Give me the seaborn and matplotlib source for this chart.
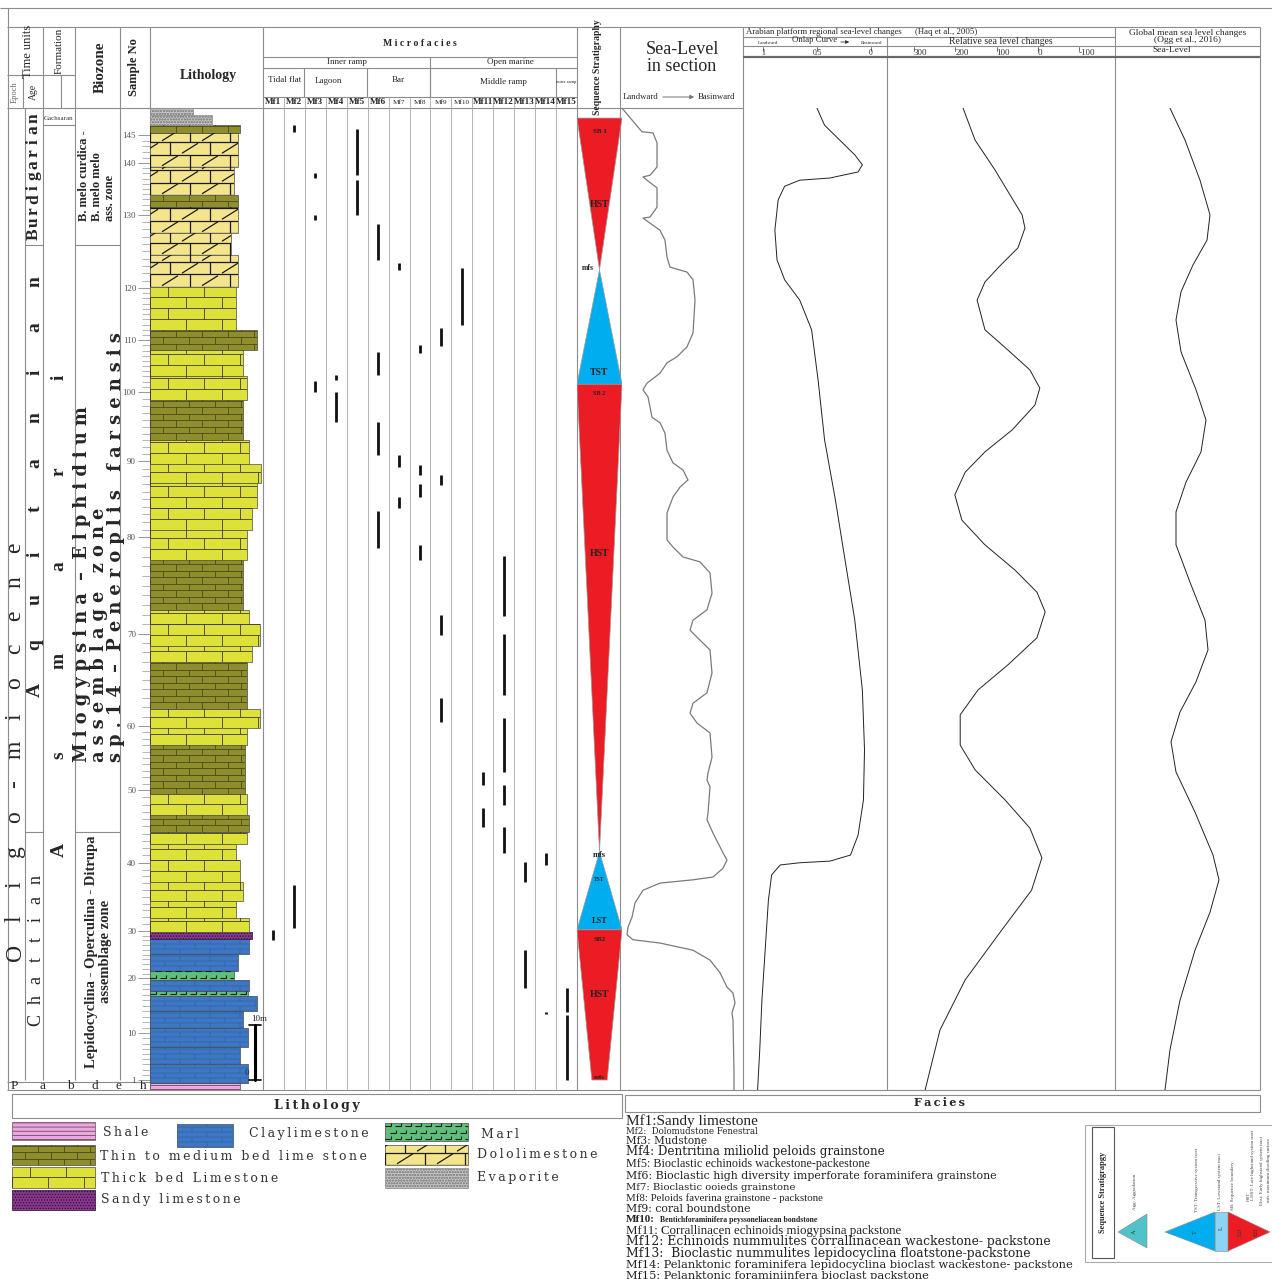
import numpy as np
import matplotlib
matplotlib.use("Agg")
import matplotlib.pyplot as plt
import matplotlib.transforms as mtrans
from matplotlib.patches import Rectangle, Polygon
from matplotlib.collections import LineCollection
import seaborn as sns

# ---------------- data (heights in metres above base of section) ----------------
sample_ticks = [1, 10, 20, 30, 40, 50, 60, 70, 80, 90, 100, 110, 120, 130, 140, 145]
sample_heights = [0.0, 8.5, 18.5, 27.1, 39.5, 52.7, 64.4, 81.1, 98.7, 112.5,
                  125.1, 134.5, 144.0, 157.3, 166.7, 171.8]

bed_base = [-1.8, -0.5, 3.0, 6.0, 9.5, 12.5, 15.3, 16.2, 18.2, 19.8, 23.0, 25.6,
            26.9, 29.5, 32.5, 36.0, 40.0, 43.0, 45.1, 48.2, 52.0, 61.0, 64.0, 67.5,
            76.0, 79.0, 83.0, 85.5, 94.5, 100.0, 104.0, 108.5, 112.0, 116.4, 123.6,
            128.0, 132.7, 136.4, 144.2, 150.0, 154.0, 158.7, 160.9, 166.0, 172.2,
            173.6, 175.5]
bed_top = bed_base[1:] + [176.7]
bed_lith = ['shale', 'clay', 'clay', 'clay', 'clay', 'clay', 'marl', 'clay', 'marl',
            'clay', 'clay', 'sandy', 'thick', 'thick', 'thick', 'thick', 'thick',
            'thick', 'thin', 'thick', 'thin', 'thick', 'thick', 'thin', 'thick',
            'thick', 'thick', 'thin', 'thick', 'thick', 'thick', 'thick', 'thick',
            'thin', 'thick', 'thick', 'thin', 'thick', 'dolo', 'dolo', 'dolo', 'thin',
            'dolo', 'dolo', 'thin', 'evap', 'evap']
bed_width = [0.80, 0.87, 0.80, 0.87, 0.82, 0.95, 0.87, 0.88, 0.74, 0.78, 0.88, 0.90,
             0.88, 0.76, 0.82, 0.80, 0.76, 0.86, 0.88, 0.86, 0.84, 0.86, 0.97, 0.86,
             0.90, 0.97, 0.88, 0.82, 0.86, 0.90, 0.95, 0.98, 0.88, 0.82, 0.86, 0.82,
             0.95, 0.76, 0.78, 0.72, 0.78, 0.78, 0.74, 0.78, 0.80, 0.55, 0.38]

mf_names = ['Mf%d' % i for i in range(1, 16)]
mf_col = [1, 2, 2, 3, 3, 3, 4, 4, 5, 5, 6, 6, 6, 6, 7, 7, 7, 8, 8, 8, 8,
          9, 9, 9, 9, 10, 11, 11, 12, 12, 12, 12, 12, 13, 13, 14, 14, 15, 15]
mf_base = [25.5, 172.4, 27.6, 164.0, 156.4, 125.1, 127.3, 119.6, 164.5, 157.3,
           149.1, 128.2, 113.6, 96.7, 147.3, 111.5, 104.0, 132.2, 110.0, 106.0, 94.5,
           133.5, 108.2, 80.9, 65.1, 137.3, 53.6, 46.0, 84.4, 70.0, 56.0, 50.0, 41.3,
           36.0, 16.7, 39.1, 12.0, 12.4, 0.0]
mf_top = [27.3, 173.6, 35.5, 164.9, 157.3, 127.1, 128.2, 125.1, 172.9, 163.6,
          155.6, 132.4, 119.6, 103.5, 148.5, 113.6, 106.0, 133.6, 111.8, 108.4, 97.3,
          136.7, 110.0, 84.5, 69.5, 147.6, 56.0, 49.5, 95.3, 81.1, 65.8, 53.6, 46.0,
          39.6, 23.6, 41.3, 12.4, 16.7, 11.8]

tract_kind = ['HST', 'TST', 'HST', 'TST', 'HST']
tract_base = [147.3, 126.5, 41.5, 27.3, 0.0]
tract_top = [174.9, 147.3, 126.5, 41.5, 27.3]
tract_tip = [0.0, 0.0, 0.0, 0.0, 0.34]

seq_text = ['SB 1', 'HST', 'mfs', 'TST', 'SB 2', 'HST', 'mfs', 'TST', 'LST', 'SB2', 'HST', 'mfs']
seq_text_h = [172.5, 159.1, 147.6, 128.7, 124.9, 95.8, 40.9, 36.4, 28.9, 25.5, 15.5, 0.4]
seq_text_x = [0.5, 0.5, 0.24, 0.5, 0.5, 0.5, 0.5, 0.5, 0.5, 0.5, 0.5, 0.5]
seq_text_size = [5, 7, 5.5, 7, 4.5, 7, 6, 4, 6, 5, 7, 5]

sls_x = [2, 22, 33, 37, 37, 30, 23, 27, 37, 37, 30, 23, 30, 40, 45, 47, 50, 67, 73, 75,
         73, 67, 57, 47, 40, 27, 23, 28, 32, 40, 45, 47, 53, 63, 68, 60, 53, 47, 47,
         53, 63, 80, 90, 92, 87, 73, 70, 77, 90, 92, 87, 73, 70, 77, 90, 92, 88, 87,
         90, 88, 87, 93, 103, 107, 103, 93, 73, 40, 23, 15, 12, 8, 7, 13, 40, 73, 90,
         100, 107, 113, 115, 112, 113, 114, 114]
sls_h = [176.7, 172.4, 172.2, 170.4, 166.0, 164.5, 164.2, 163.6, 162.2, 158.7, 156.9,
         156.7, 155.8, 154.5, 152.7, 149.6, 147.8, 146.9, 145.5, 141.8, 135.8, 133.3,
         131.5, 130.4, 128.5, 126.7, 125.5, 124.2, 120.5, 119.5, 117.6, 114.5, 112.2,
         110.9, 109.1, 107.8, 106.0, 103.1, 98.2, 96.9, 95.1, 94.2, 92.2, 88.5, 85.5,
         83.6, 81.8, 80.5, 78.2, 74.0, 70.4, 68.5, 66.7, 64.9, 63.1, 58.7, 55.8, 54.5,
         53.3, 48.5, 47.3, 44.9, 41.3, 40.0, 38.5, 36.9, 36.4, 35.8, 34.5, 32.2, 29.6,
         27.8, 26.4, 25.5, 24.9, 23.6, 21.8, 19.5, 16.9, 15.8, 14.0, 12.2, 10.9, 1.3, -1.8]

onlap_x = [0.50, 0.43, 0.29, 0.15, 0.08, 0.12, 0.38, 0.66, 0.80, 0.86, 0.89, 0.87, 0.80,
           0.66, 0.55, 0.49, 0.43, 0.33, 0.24, 0.15, 0.08, 0.06, 0.07, 0.12, 0.19, 0.38,
           0.66, 0.84, 0.92, 0.95, 0.98, 1.01, 1.03, 1.05]
onlap_h = [176.7, 173.6, 170.9, 168.2, 166.4, 165.1, 164.0, 163.6, 162.5, 160.0, 154.5,
           149.1, 145.5, 141.8, 136.4, 127.3, 116.4, 105.5, 94.5, 83.6, 70.9, 60.0, 50.9,
           44.5, 40.9, 39.8, 39.5, 39.1, 37.3, 32.7, 23.6, 14.5, 5.5, -1.8]

rel_x = [181, 152, 104, 67, 38, 31, 48, 92, 128, 147, 128, 72, 19, -5, 7, 62, 128, 176,
         201, 184, 128, 55, 2, -18, 2, 72, 145, 188, 188, 152, 79, 19, -10, 15, 87, 176,
         237, 273]
rel_h = [176.7, 170.9, 165.5, 160.9, 157.3, 154.9, 151.3, 148.0, 145.1, 141.8, 136.4,
         132.7, 129.1, 125.8, 122.7, 118.2, 114.2, 110.5, 106.4, 101.8, 97.3, 92.7, 88.7,
         85.1, 80.4, 75.5, 70.9, 66.4, 60.9, 56.4, 50.9, 45.8, 40.4, 34.5, 27.3, 18.2,
         9.1, -1.8]

glob_x = [55, 70, 85, 95, 92, 78, 66, 61, 66, 81, 91, 86, 71, 61, 61, 75, 90, 93, 81, 65,
          56, 61, 80, 98, 104, 95, 80, 65, 55, 50]
glob_h = [176.7, 170.9, 163.6, 157.3, 152.7, 148.2, 143.3, 138.2, 132.4, 125.5, 120.0,
          114.2, 108.7, 103.3, 97.3, 90.5, 83.6, 78.2, 72.4, 66.9, 61.5, 56.0, 48.7, 40.9,
          36.4, 30.5, 23.6, 14.5, 5.5, -1.8]

onlap_ticks = [1, 0.5, 0]
rel_ticks = [300, 200, 100, 0, -100]

facies_text = [
    'Mf1:Sandy limestone',
    'Mf2:  Dolomudstone Fenestral',
    'Mf3: Mudstone',
    'Mf4: Dentritina miliolid peloids grainstone',
    'Mf5: Bioclastic echinoids wackestone-packestone',
    'Mf6: Bioclastic high diversity imperforate foraminifera grainstone',
    'Mf7: Bioclastic ooieds grainstone',
    'Mf8: Peloids faverina grainstone - packstone',
    'Mf9: coral boundstone',
    'Mf10:',
    'Mf11: Corrallinacen echinoids miogypsina packstone',
    'Mf12: Echinoids nummulites corrallinacean wackestone- packstone',
    'Mf13:  Bioclastic nummulites lepidocyclina floatstone-packstone',
    'Mf14: Pelanktonic foraminifera lepidocyclina bioclast wackestone- packstone',
    'Mf15: Pelanktonic foraminiinfera bioclast packstone',
]
facies_font = ['Liberation Serif', 'DejaVu Serif', 'DejaVu Serif', 'DejaVu Serif',
               'Liberation Serif', 'DejaVu Serif', 'DejaVu Serif', 'Liberation Serif',
               'DejaVu Serif', 'Liberation Serif', 'Liberation Serif', 'DejaVu Serif',
               'DejaVu Serif', 'DejaVu Serif', 'DejaVu Serif']
facies_size = [11, 6.2, 7.6, 8.6, 8.7, 7.9, 7.2, 7.8, 7.8, 8.0, 9.3, 8.9, 8.9, 8.2, 8.2]
facies_y = [1121, 1132, 1141, 1152, 1164, 1176, 1187, 1198, 1209, 1220, 1231, 1242,
            1254, 1265, 1276]

legend_items = [('shale', 'Shale'), ('clay', 'Claylimestone'), ('marl', 'Marl'),
                ('thin', 'Thin to medium bed lime stone'), ('dolo', 'Dololimestone'),
                ('thick', 'Thick bed Limestone'), ('evap', 'Evaporite'),
                ('sandy', 'Sandy limestone')]

# ---------------- style ----------------
sns.set_style("white")
plt.rcParams['font.family'] = ['Liberation Serif', 'DejaVu Serif']
plt.rcParams['hatch.linewidth'] = 0.6

PAT = {
    'thick': dict(fc='#dde13a', rh=11, bw=36, lc='#3c3c20', lw=0.6, diag=False),
    'thin': dict(fc='#8e8e2e', rh=6.5, bw=26, lc='#3d3d12', lw=0.5, diag=False),
    'dolo': dict(fc='#f4e48c', rh=12.5, bw=40, lc='#1a1a1a', lw=0.9, diag=True),
    'clay': dict(fc='#3e77c3', rh=5, bw=30, lc='#2b5a95', lw=0.35, diag=False),
}
FILL = {'marl': '#5dbf7a', 'evap': '#c4c4c4', 'shale': '#eaa8dd', 'sandy': '#8a3990'}
HATCH = {'evap': 'oooooo', 'shale': '----', 'sandy': '......'}
HATCH_EC = {'evap': '#8e8e8e', 'shale': '#6c4a66', 'sandy': '#2a0c2c'}
RED, BLUE = '#ec1c24', '#00aeef'
GRID = '#8c8c8c'

W, H = 1272, 1279
fig = plt.figure(figsize=(W / 100, H / 100), dpi=100)
frame = fig.add_axes([0, 0, 1, 1])
frame.set_xlim(0, W)
frame.set_ylim(H, 0)
frame.axis('off')

TOP_PX, BOT_PX, BASE_PX, PX_PER_M = 108, 1090, 1080, 5.5
Y_TOP = (BASE_PX - TOP_PX) / PX_PER_M
Y_BOT = (BASE_PX - BOT_PX) / PX_PER_M


def col_axes(x0, x1, xlim):
    ax = fig.add_axes([x0 / W, 1 - BOT_PX / H, (x1 - x0) / W, (BOT_PX - TOP_PX) / H])
    ax.set_xlim(*xlim)
    ax.set_ylim(Y_BOT, Y_TOP)
    ax.patch.set_alpha(0)
    for s in ax.spines.values():
        s.set_visible(False)
    ax.set_xticks([])
    ax.set_yticks([])
    return ax


def draw_lith(ax, x0, x1, y0, y1, lith, sx, sy, up):
    lo, hi = min(y0, y1), max(y0, y1)
    spec = PAT.get(lith)
    fc = spec['fc'] if spec else FILL[lith]
    rect = Rectangle((x0, lo), x1 - x0, hi - lo, facecolor=fc,
                     edgecolor=HATCH_EC.get(lith, '#4a4a4a'), linewidth=0.5,
                     hatch=HATCH.get(lith), zorder=2)
    ax.add_patch(rect)
    segs = []
    start = lo if up > 0 else hi
    if spec:
        rh, bw = spec['rh'] / sy, spec['bw'] / sx
        n = int(np.ceil((hi - lo) / rh))
        for k in range(n + 1):
            ya = start + up * k * rh
            yb = ya + up * rh
            segs.append([(x0, ya), (x1, ya)])
            off = (bw / 2) * (k % 2)
            for xj in np.arange(x0 + off - bw, x1 + bw, bw):
                segs.append([(xj, ya), (xj, yb)])
                if spec['diag']:
                    xm = xj + bw / 2
                    segs.append([(xm - 0.2 * bw, ya + up * 0.1 * rh),
                                 (xm + 0.2 * bw, yb - up * 0.1 * rh)])
        color, lw = spec['lc'], spec['lw']
    elif lith == 'marl':
        rh, bw = 6.5 / sy, 10 / sx
        n = int(np.ceil((hi - lo) / rh))
        for k in range(n + 1):
            ya = start + up * (k + 0.3) * rh
            off = (bw / 2) * (k % 2)
            for xj in np.arange(x0 + off, x1, bw):
                segs.append([(xj, ya), (xj + 0.55 * bw, ya)])
                segs.append([(xj + 0.55 * bw, ya), (xj + 0.55 * bw, ya + up * 0.45 * rh)])
        color, lw = '#1b1b1b', 0.8
    if segs:
        lc = LineCollection(segs, colors=color, linewidths=lw, zorder=3)
        ax.add_collection(lc)
        lc.set_clip_path(rect)


def fline(xs, ys, lw=0.8, color=GRID):
    frame.plot(xs, ys, color=color, lw=lw, solid_capstyle='butt')


def spaced(x, ya, yb, s, size, **kw):
    n = len(s)
    for i, ch in enumerate(s):
        frame.text(x, ya + (yb - ya) * i / (n - 1), ch, rotation=90, ha='center',
                   va='center', fontsize=size, **kw)


def tracked(s):
    # loose letter spacing, as in the legend labels of the figure
    return '\u2009'.join(s)


# ---------------- table frame ----------------
X_MF0, X_MF1 = 263, 577
mf_w = (X_MF1 - X_MF0) / 15
fline([0, W], [8, 8])
fline([8, 8], [8, BOT_PX])
fline([7, 1260], [27, 27])
fline([7, 743], [TOP_PX, TOP_PX])
fline([7, 75], [75, 75])
fline([23, 23], [75, TOP_PX])
fline([25, 25], [TOP_PX, BASE_PX])
fline([61, 61], [75, TOP_PX])
for xv in [43, 75, 120]:
    fline([xv, xv], [27, BASE_PX])
for xv in [150, 263, 577, 620, 743, 1115, 1260]:
    fline([xv, xv], [27, BOT_PX])
fline([887, 887], [37, BOT_PX])
fline([7, 150], [BASE_PX + 2, BASE_PX + 2])
fline([43, 75], [125, 125])
for yv in [245, 832]:
    fline([25, 43], [yv, yv])
    fline([75, 120], [yv, yv])
fline([7, 1260], [BOT_PX, BOT_PX])
for yv in [57, 68, 97]:
    fline([X_MF0, X_MF1], [yv, yv])
fline([430, 430], [57, 97])
for xv in [304, 367, 430, 556]:
    fline([xv, xv], [68, 97])
for k in range(1, 15):
    xv = X_MF0 + k * mf_w
    fline([xv, xv], [97, BOT_PX], lw=0.6, color='#a8a8a8')
fline([743, 1115], [37, 37])
fline([743, 1260], [46, 46])
fline([743, 1260], [56.5, 56.5], lw=1.6, color='#6a6a6a')

# ---------------- header texts ----------------
frame.text(28, 51, 'Time units', rotation=90, ha='center', va='center', fontsize=9)
frame.text(15, 92, 'Epoch', rotation=90, ha='center', va='center', fontsize=6, color='#666')
frame.text(33, 92, 'Age', rotation=90, ha='center', va='center', fontsize=7)
frame.text(59, 51, 'Formation', rotation=90, ha='center', va='center', fontsize=8)
frame.text(100, 67, 'Biozone', rotation=90, ha='center', va='center', fontsize=11, weight='bold')
frame.text(134, 67, 'Sample No', rotation=90, ha='center', va='center', fontsize=9, weight='bold')
frame.text(208, 75, 'Lithology', ha='center', va='center', fontsize=10, weight='bold')
frame.text(59, 119, 'Gachsaran', ha='center', va='center', fontsize=5, color='#333')

frame.text(420, 44, 'M i c r o f a c i e s', ha='center', va='center', fontsize=7, weight='bold')
frame.text(347, 62, 'Inner ramp', ha='center', va='center', fontsize=6.5)
frame.text(510, 62, 'Open marine', ha='center', va='center', fontsize=6.5)
frame.text(285, 80, 'Tidal flat', ha='center', va='center', fontsize=6.5)
frame.text(328, 81, 'Lagoon', ha='center', va='center', fontsize=6.5)
frame.text(398, 80, 'Bar', ha='center', va='center', fontsize=6.5)
frame.text(503, 82, 'Middle ramp', ha='center', va='center', fontsize=6.5)
frame.text(566, 82, 'outer ramp', ha='center', va='center', fontsize=3.3)
for k, name in enumerate(mf_names):
    small = name in ('Mf7', 'Mf8', 'Mf9', 'Mf10')
    frame.text(X_MF0 + (k + 0.5) * mf_w, 102, name, ha='center', va='center',
               fontsize=5.2 if small else 6.6, weight='normal' if small else 'bold')

frame.text(598, 67, 'Sequence Stratigraphy', rotation=90, ha='center', va='center',
           fontsize=7, weight='bold')
frame.text(682, 58, 'Sea-Level\nin section', ha='center', va='center', fontsize=13,
           linespacing=1.05)
frame.text(623, 97, 'Landward', ha='left', va='center', fontsize=6.3)
frame.annotate('', xy=(697, 97), xytext=(660, 97),
               arrowprops=dict(arrowstyle='-|>', color='#777', lw=0.7, mutation_scale=6))
frame.text(698, 97, 'Basinward', ha='left', va='center', fontsize=6.3)

frame.text(746, 32, 'Arabian platform regional sea-level changes', ha='left', va='center', fontsize=6.3)
frame.text(946, 32, '(Haq et al., 2005)', ha='center', va='center', fontsize=6.3)
frame.text(768, 43, 'Landward', ha='center', va='center', fontsize=3.6)
frame.text(815, 40.5, 'Onlap Curve', ha='center', va='center', fontsize=6.3)
frame.annotate('', xy=(852, 42), xytext=(838, 42),
               arrowprops=dict(arrowstyle='-|>', color='#333', lw=0.6, mutation_scale=5))
frame.text(872, 43, 'Basinward', ha='center', va='center', fontsize=3.6)
frame.text(1001, 42, 'Relative sea level changes', ha='center', va='center', fontsize=7)
frame.text(1188, 33, 'Global mean sea level changes', ha='center', va='center', fontsize=6.8)
frame.text(1188, 40, '(Ogg et al., 2016)', ha='center', va='center', fontsize=6.8)
frame.text(1172, 50.5, 'Sea-Level', ha='center', va='center', fontsize=6.8)

# ---------------- body labels ----------------
spaced(15, 952, 548, 'Oligo-miocene', 17)
spaced(34, 234, 118, 'Burdigarian', 12.5, weight='bold')
spaced(35, 690, 282, 'Aquitanian', 14, weight='bold')
spaced(36, 1020, 880, 'Chattian', 13)
spaced(59, 850, 377, 'Asmari', 14, weight='bold')
frame.text(97, 176, 'B. melo curdica -\nB. melo melo\nass. zone', rotation=90, ha='center',
           va='center', fontsize=9, weight='bold', multialignment='left', linespacing=1.15)
frame.text(99, 762, 'M i o g y p s i n a  –  E l p h i d i u m\n'
                    'a s s e m b l a g e   z o n e\n'
                    's p . 1 4  –  P e n e r o p l i s   f a r s e n s i s',
           rotation=90, ha='center', va='bottom', fontsize=12.8, weight='bold',
           family='DejaVu Serif', multialignment='left', linespacing=0.92)
frame.text(99, 1068, 'Lepidocyclina - Operculina - Ditrupa\nassemblage zone', rotation=90,
           ha='center', va='bottom', fontsize=10.5, weight='bold', multialignment='center',
           linespacing=1.1)
for ch, xv in zip('Pabdeh', [14, 43, 70, 95, 118, 143]):
    frame.text(xv, 1086, ch, ha='center', va='center', fontsize=9.5)

# ---------------- lithology column ----------------
ax_l = col_axes(150, 263, (0, 1))
for b, t, lith, w in zip(bed_base, bed_top, bed_lith, bed_width):
    draw_lith(ax_l, 0, w, b, t, lith, 113, PX_PER_M, 1)
ax_l.plot([0.93, 0.93], [0, 10], color='black', lw=2.2)
ax_l.plot([0.88, 0.98], [10, 10], color='black', lw=1.2)
ax_l.plot([0.88, 0.98], [0, 0], color='black', lw=1.2)
ax_l.text(0.9, 10.4, '10m', fontsize=6.5, ha='left', va='bottom')
ax_l.text(0.88, 0.6, '0', fontsize=6.5, ha='right', va='bottom')
minor_h = np.interp(np.arange(1, 146), sample_ticks, sample_heights)
ax_l.set_yticks(minor_h, minor=True)
ax_l.set_yticks(sample_heights)
ax_l.set_yticklabels([str(s) for s in sample_ticks])
ax_l.tick_params(axis='y', which='major', direction='out', length=9, width=0.6,
                 color='#888', labelsize=6.5, labelcolor='#555', pad=1, left=True)
ax_l.tick_params(axis='y', which='minor', direction='out', length=6, width=0.5,
                 color='#999', left=True)
ax_l.set_ylim(Y_BOT, Y_TOP)

# ---------------- microfacies ----------------
ax_m = col_axes(X_MF0, X_MF1, (0.5, 15.5))
ax_m.vlines(mf_col, mf_base, mf_top, color='#111', lw=2.0)

# ---------------- sequence stratigraphy ----------------
ax_q = col_axes(577, 622, (0, 1))
for kind, b, t, tip in zip(tract_kind, tract_base, tract_top, tract_tip):
    if kind == 'HST':
        pts = [(0, t), (1, t), (0.5 + tip / 2, b), (0.5 - tip / 2, b)]
        col = RED
    else:
        pts = [(0.5, t), (1, b), (0, b)]
        col = BLUE
    ax_q.add_patch(Polygon(pts, closed=True, facecolor=col, edgecolor='#9a9a9a', lw=0.5))
for s, h, xv, fs in zip(seq_text, seq_text_h, seq_text_x, seq_text_size):
    ax_q.text(xv, h, s, ha='center', va='center', fontsize=fs, weight='bold', color='#222')

# ---------------- sea-level curves ----------------
ax_s = col_axes(620, 743, (0, 123))
sns.lineplot(x=sls_x, y=sls_h, sort=False, estimator=None, ax=ax_s, color='#7a7a7a', lw=0.9)

ax_o = col_axes(743, 887, (1 + 20 / 108, -16 / 108))
sns.lineplot(x=onlap_x, y=onlap_h, sort=False, estimator=None, ax=ax_o, color='#222', lw=0.7)

ax_r = col_axes(887, 1115, (300 + 27 / 0.4125, 300 - 201 / 0.4125))
sns.lineplot(x=rel_x, y=rel_h, sort=False, estimator=None, ax=ax_r, color='#222', lw=0.7)

ax_g = col_axes(1115, 1260, (0, 145))
sns.lineplot(x=glob_x, y=glob_h, sort=False, estimator=None, ax=ax_g, color='#222', lw=0.7)

for ax in (ax_s, ax_o, ax_r, ax_g):
    ax.set_xlabel('')
    ax.set_ylabel('')
    ax.set_ylim(Y_BOT, Y_TOP)
    ax.set_xticks([])
    ax.set_yticks([])
    for ln in ax.get_lines():
        ln.set_solid_joinstyle('round')

for ax, ticks, fmt in ((ax_o, onlap_ticks, '{:g}'), (ax_r, rel_ticks, '{:d}')):
    tr = mtrans.blended_transform_factory(ax.transData, frame.transData)
    for v in ticks:
        frame.plot([v, v], [47, 50.5], transform=tr, color='#333', lw=0.5)
        frame.text(v, 53, fmt.format(v), transform=tr, ha='left' if ax is ax_r else 'center',
                   va='center', fontsize=6.5 if ax is ax_r else 5.5, color='#333')

# ---------------- lithology legend ----------------
frame.add_patch(Rectangle((12, 1094), 610, 24, facecolor='white', edgecolor=GRID, lw=0.8))
frame.text(317, 1106, tracked('Lithology'), ha='center', va='center', fontsize=9,
           weight='bold', family='DejaVu Serif')
leg_box = {'shale': (12, 1122, 95, 1140), 'clay': (177, 1124, 233, 1147),
           'marl': (385, 1123, 468, 1141), 'thin': (12, 1145, 95, 1165),
           'dolo': (385, 1145, 468, 1165), 'thick': (12, 1167, 95, 1188),
           'evap': (385, 1168, 468, 1188), 'sandy': (12, 1190, 95, 1210)}
leg_tx = {'shale': (103, 1133), 'clay': (249, 1133), 'marl': (481, 1135),
          'thin': (100, 1156), 'dolo': (477, 1155), 'thick': (101, 1178),
          'evap': (477, 1178), 'sandy': (101, 1199)}
for lith, label in legend_items:
    x0, y0, x1, y1 = leg_box[lith]
    draw_lith(frame, x0, x1, y0, y1, lith, 1, 1, -1)
    tx, ty = leg_tx[lith]
    frame.text(tx, ty, tracked(label), ha='left', va='center', fontsize=9,
               family='DejaVu Serif', color='#333')

# ---------------- facies legend ----------------
frame.add_patch(Rectangle((625, 1095), 635, 17, facecolor='white', edgecolor=GRID, lw=0.8))
frame.text(940, 1103, tracked('Facies'), ha='center', va='center', fontsize=8,
           weight='bold', family='DejaVu Serif')
for s, fam, fs, yv in zip(facies_text, facies_font, facies_size, facies_y):
    bold = s.startswith('Mf10')
    frame.text(626, yv, s, ha='left', va='center', fontsize=fs, family=fam,
               weight='bold' if bold else 'normal', color='#222')
frame.text(660, 1220, 'Bentichforaminifera peyssoneliacean bondstone', ha='left', va='center',
           fontsize=5.6, weight='bold', color='#222')

# ---------------- sequence legend ----------------
frame.add_patch(Rectangle((1085, 1125), 200, 137, facecolor='white', edgecolor='#aaa', lw=0.8))
frame.add_patch(Rectangle((1092, 1127), 22, 131, facecolor='white', edgecolor='#555', lw=0.8))
frame.text(1103, 1192, 'Sequence Stratigrapgy', rotation=90, ha='center', va='center',
           fontsize=6, weight='bold')
frame.add_patch(Polygon([(1118, 1232), (1147, 1214), (1147, 1248)], facecolor='#4fc3c8',
                        edgecolor='#888', lw=0.4))
frame.add_patch(Polygon([(1165, 1232), (1215, 1212), (1215, 1251)], facecolor=BLUE,
                        edgecolor='#888', lw=0.4))
frame.add_patch(Polygon([(1215, 1212), (1228, 1212), (1228, 1251), (1215, 1251)],
                        facecolor='#8dd3f3', edgecolor='#888', lw=0.4))
frame.add_patch(Polygon([(1228, 1212), (1270, 1232), (1228, 1251)], facecolor=RED,
                        edgecolor='#888', lw=0.4))
for xv, yv, s in [(1134, 1232, 'A'), (1195, 1232, 'T'), (1221, 1228, 'L'),
                  (1240, 1232, 'LH'), (1256, 1232, 'EH')]:
    frame.text(xv, yv, s, rotation=90, ha='center', va='center', fontsize=4.5, color='#333')
for xv, yv, s in [(1135, 1192, 'Agg: Aggradation'),
                  (1197, 1180, 'TST: Transgressive system tract'),
                  (1220, 1182, 'LST: Lowstand system tract'),
                  (1233, 1186, 'SB: Sequence boundary'),
                  (1249, 1196, 'HST'),
                  (1253, 1165, 'LHST: Late highstand system tract'),
                  (1262, 1170, 'Ehst: Early highstand system tract'),
                  (1269, 1170, 'mfs: maximum flooding surface')]:
    frame.text(xv, yv, s, rotation=90, ha='center', va='center', fontsize=3.6, color='#444')

fig.savefig('out.png', dpi=100)
